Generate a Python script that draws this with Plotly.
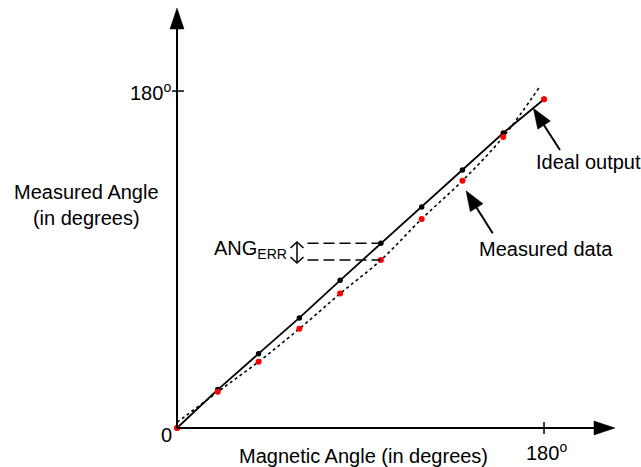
import plotly.graph_objects as go

# ---------------- data (degrees) ----------------
magnetic_angle = [0, 20, 40, 60, 80, 100, 120, 140, 160, 180]
ideal_output = [0, 20.5, 39.7, 58.8, 78.9, 98.7, 118.0, 137.8, 157.6, 175.6]
measured_data = [0, 19.3, 35.4, 53.0, 71.8, 89.7, 111.7, 132.1, 155.5, 175.6]
fit_x = [0, 20, 40, 60, 80, 100, 120, 140, 160, 178]
fit_y = [3.0, 19.3, 35.4, 53.0, 71.8, 89.7, 111.7, 132.1, 155.5, 182.5]
err_index = 5            # point used for the ANG_ERR marker (x = 100)
err_dash_start = 64      # x where the ANG_ERR dashed guides start

W, H = 641, 467
# pixel calibration of the drawing
X0, SX = 177.0, 2.039    # px of x=0, px per degree
Y0, SY = 428.0, 1.872    # px of y=0, px per degree

FONT = "Liberation Sans, Arial, sans-serif"
FS = 20


def P(px, py):
    return px / W, 1 - py / H


def arrow_head(tip, tail, L, w):
    tx, ty = tip
    dx, dy = tx - tail[0], ty - tail[1]
    n = (dx * dx + dy * dy) ** 0.5
    dx, dy = dx / n, dy / n
    bx, by = tx - L * dx, ty - L * dy
    nx, ny = -dy, dx
    pts = [(tx, ty), (bx + w * nx, by + w * ny), (bx - w * nx, by - w * ny)]
    s = "M " + " L ".join(f"{P(*p)[0]:.5f},{P(*p)[1]:.5f}" for p in pts) + " Z"
    return dict(type="path", xref="paper", yref="paper", path=s,
                fillcolor="black", line=dict(color="black", width=0.5))


def pline(pts, width=1.5, dash="solid"):
    s = "M " + " L ".join(f"{P(*p)[0]:.5f},{P(*p)[1]:.5f}" for p in pts)
    return dict(type="path", xref="paper", yref="paper", path=s,
                line=dict(color="black", width=width, dash=dash))


fig = go.Figure()

# dotted fitted curve through measured data
fig.add_trace(go.Scatter(x=fit_x, y=fit_y, mode="lines",
                         line=dict(color="black", width=1.6, dash="dot", shape="spline"),
                         hoverinfo="skip"))
# ideal output line
fig.add_trace(go.Scatter(x=magnetic_angle, y=ideal_output, mode="lines+markers",
                         line=dict(color="black", width=1.8),
                         marker=dict(color="black", size=5.5), hoverinfo="skip"))
# measured points
fig.add_trace(go.Scatter(x=magnetic_angle, y=measured_data, mode="markers",
                         marker=dict(color="#ff0000", size=6), hoverinfo="skip"))
# ANG_ERR dashed guides
for yv in (ideal_output[err_index], measured_data[err_index]):
    fig.add_trace(go.Scatter(x=[err_dash_start, magnetic_angle[err_index]], y=[yv, yv],
                             mode="lines", line=dict(color="black", width=1.5, dash="11px,5px"),
                             hoverinfo="skip"))

shapes = []
# axes
shapes.append(pline([(X0, Y0), (X0, 20)], width=2))
shapes.append(pline([(X0, Y0), (605, Y0)], width=2))
shapes.append(arrow_head((X0, 8), (X0, 100), 21, 7))
shapes.append(arrow_head((615, Y0), (500, Y0), 21, 7))
# ticks
y180 = Y0 - 180 * SY
x180 = X0 + 180 * SX
shapes.append(pline([(X0 - 5, y180), (X0 + 7, y180)], width=1.5))
shapes.append(pline([(x180, Y0 - 6), (x180, Y0 + 6)], width=1.5))
# pointer arrows
shapes.append(pline([(560, 150), (540, 119)], width=2))
shapes.append(arrow_head((533.3, 108.3), (560, 150), 20, 7.5))
shapes.append(pline([(492.7, 233.3), (473, 202)], width=2))
shapes.append(arrow_head((466, 190.7), (492.7, 233.3), 20, 7.5))
# ANG_ERR double arrow
shapes.append(pline([(297, 242), (297, 263)], width=1.5))
shapes.append(pline([(290.5, 248), (297, 242), (303.5, 248)], width=1.5))
shapes.append(pline([(290.5, 257), (297, 263), (303.5, 257)], width=1.5))

annotations = []


def text(t, px, py, xanchor="center", yanchor="middle", align="center"):
    x, y = P(px, py)
    annotations.append(dict(text=t, x=x, y=y, xref="paper", yref="paper",
                            xanchor=xanchor, yanchor=yanchor, align=align,
                            showarrow=False, font=dict(family=FONT, size=FS, color="black")))


text("Measured Angle<br>(in degrees)", 86, 205)
text("Magnetic Angle (in degrees)", 363, 456)
text("180<sup>o</sup>", 173, y180, xanchor="right")
text("180<sup>o</sup>", x180 + 2, 451)
text("0", 166, 435)
text("ANG<sub>ERR</sub>", 212, 249, xanchor="left")
text("Ideal output", 534, 162, xanchor="left")
text("Measured data", 477, 249, xanchor="left")

fig.update_layout(
    width=W, height=H, autosize=False,
    margin=dict(l=0, r=0, t=0, b=0, pad=0),
    paper_bgcolor="white", plot_bgcolor="white",
    showlegend=False,
    xaxis=dict(range=[-X0 / SX, (W - X0) / SX], visible=False, fixedrange=True),
    yaxis=dict(range=[-(H - Y0) / SY, Y0 / SY], visible=False, fixedrange=True),
    shapes=shapes, annotations=annotations,
)

fig.write_html("out.html", config=dict(displayModeBar=False),
               post_script="document.body.style.margin='0px';document.body.style.overflow='hidden';")
